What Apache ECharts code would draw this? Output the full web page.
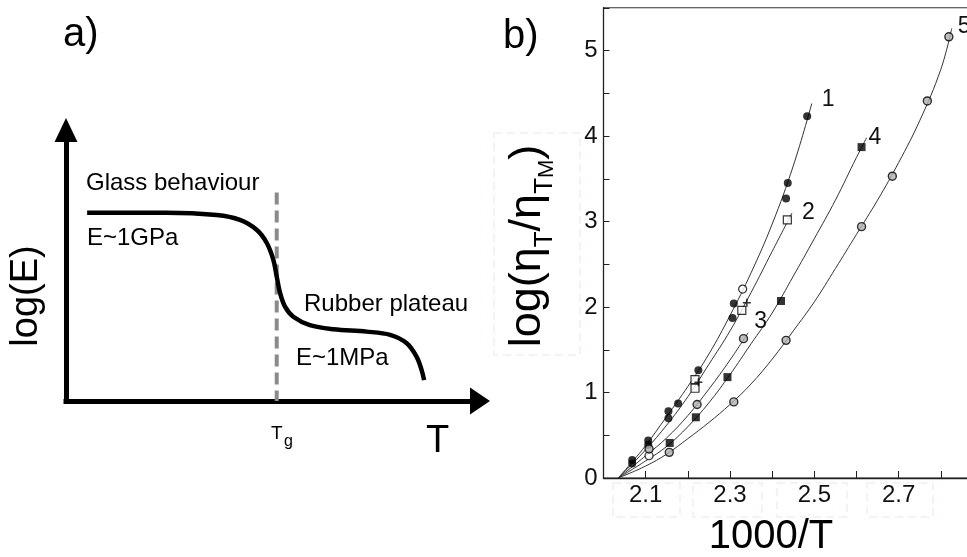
<!DOCTYPE html>
<html>
<head>
<meta charset="utf-8">
<script src="https://cdn.jsdelivr.net/npm/echarts@6/dist/echarts.min.js"></script>
<style>html,body{margin:0;padding:0;background:#fff}#c{width:967px;height:557px}</style>
</head>
<body>
<div id="c"></div>
<script>
// ---------- Panel a: schematic modulus curve (arbitrary units) ----------
const schemT    = [0.51, 2.43, 3.64, 4.20, 4.61, 4.85, 5.01, 5.09, 5.17, 5.29, 5.49, 5.89, 6.46, 7.26, 7.83, 8.23, 8.47, 8.59, 8.65];
const schemLogE = [6.95, 6.95, 6.86, 6.68, 6.31, 5.83, 5.20, 4.59, 3.99, 3.48, 3.11, 2.80, 2.65, 2.56, 2.44, 2.13, 1.63, 1.14, 0.77];
const tgT = 5.09;
const tgTop = 7.69;

// ---------- Panel b: fitted curves ----------
const fit1X = [2.035, 2.07, 2.1, 2.15, 2.2, 2.25, 2.3, 2.35, 2.4, 2.45, 2.494];
const fit1Y = [0, 0.2, 0.38, 0.72, 1.07, 1.45, 1.9, 2.4, 2.97, 3.65, 4.38];
const fit2X = [2.035, 2.1, 2.15, 2.2, 2.25, 2.3, 2.35, 2.4, 2.447];
const fit2Y = [0, 0.33, 0.62, 0.95, 1.33, 1.72, 2.17, 2.65, 3.10];
const fit3X = [2.035, 2.1, 2.15, 2.2, 2.25, 2.3, 2.343];
const fit3Y = [0, 0.26, 0.47, 0.73, 1.04, 1.38, 1.70];
const fit4X = [2.035, 2.1, 2.15, 2.2, 2.25, 2.3, 2.35, 2.4, 2.45, 2.5, 2.55, 2.6, 2.624];
const fit4Y = [0, 0.2, 0.37, 0.6, 0.88, 1.21, 1.57, 1.93, 2.36, 2.8, 3.25, 3.75, 3.98];
const fit5X = [2.035, 2.1, 2.15, 2.2, 2.25, 2.3, 2.35, 2.4, 2.45, 2.5, 2.55, 2.6, 2.65, 2.7, 2.75, 2.8, 2.826];
const fit5Y = [0, 0.14, 0.28, 0.46, 0.65, 0.86, 1.1, 1.39, 1.72, 2.06, 2.45, 2.85, 3.25, 3.69, 4.18, 4.78, 5.26];
const curveNames = ['1', '2', '3', '4', '5'];

// ---------- Panel b: measured points ----------
const filledCircX = [2.483, 2.437, 2.433, 2.309, 2.306, 2.225, 2.177, 2.154, 2.154, 2.106, 2.106, 2.068, 2.068];
const filledCircY = [4.23, 3.45, 3.27, 2.04, 1.87, 1.26, 0.87, 0.78, 0.70, 0.44, 0.39, 0.21, 0.17];
const openSqX = [2.436, 2.328, 2.217, 2.217];
const openSqY = [3.02, 1.96, 1.15, 1.05];
const openCircX = [2.330, 2.108];
const openCircY = [2.21, 0.26];
const plusX = [2.340, 2.225];
const plusY = [2.05, 1.12];
const halfCircX = [2.332, 2.222, 2.108, 2.819, 2.768, 2.685, 2.612, 2.433, 2.309, 2.156];
const halfCircY = [1.63, 0.86, 0.34, 5.16, 4.41, 3.53, 2.94, 1.61, 0.89, 0.30];
const filledSqX = [2.612, 2.421, 2.294, 2.219, 2.157];
const filledSqY = [3.87, 2.07, 1.18, 0.71, 0.41];

const xTickLabels = ['2.1', '2.3', '2.5', '2.7'];
const yTickLabels = ['0', '1', '2', '3', '4', '5'];

const zip = (a, b) => a.map((v, i) => [v, b[i]]);
const FF = '"Liberation Sans", Arial, sans-serif';

const chart = echarts.init(document.getElementById('c'), null, { renderer: 'canvas' });

const fits = [[fit1X, fit1Y], [fit2X, fit2Y], [fit3X, fit3Y], [fit4X, fit4Y], [fit5X, fit5Y]];
const labelOffsets = [[6, -4], [6, 0], [2, -11], [-2, 0], [2, -2]];

const fitSeries = fits.map((f, i) => ({
  name: curveNames[i],
  type: 'line', xAxisIndex: 1, yAxisIndex: 1,
  data: zip(f[0], f[1]), smooth: 0.4, showSymbol: false, silent: true,
  lineStyle: { color: '#333', width: 1 },
  endLabel: { show: true, formatter: '{a}', color: '#111', fontSize: 23, fontFamily: FF, distance: 4, offset: labelOffsets[i] },
  z: 2
}));

const boxStyle = { fill: 'none', stroke: '#f8f0f8', lineWidth: 2, lineDash: [8, 5] };

const option = {
  animation: false,
  backgroundColor: '#fff',
  grid: [
    { left: 66, top: 130, width: 414, height: 271, outerBoundsMode: 'none', containLabel: false },
    { left: 603.5, top: 7.75, width: 379.5, height: 470.25, outerBoundsMode: 'none', containLabel: false,
      show: true, borderColor: '#333', borderWidth: 1 }
  ],
  xAxis: [
    { gridIndex: 0, type: 'value', min: 0, max: 10,
      axisLine: { show: true, symbol: ['none', 'triangle'], symbolSize: [27, 20], lineStyle: { color: '#000', width: 5, cap: 'square' } },
      axisTick: { show: false }, axisLabel: { show: false }, splitLine: { show: false } },
    { gridIndex: 1, type: 'value', min: 2.0, max: 2.9, interval: 0.1,
      axisLine: { show: true, onZero: false, lineStyle: { color: '#222', width: 1.3 } },
      axisTick: { show: true, inside: true, length: 7, lineStyle: { color: '#222', width: 1 } },
      axisLabel: { show: true, margin: 5, fontSize: 24, color: '#111', fontFamily: FF,
        formatter: v => { const s = v.toFixed(1); return xTickLabels.indexOf(s) >= 0 ? s : ''; } },
      splitLine: { show: false } }
  ],
  yAxis: [
    { gridIndex: 0, type: 'value', min: 0, max: 10,
      axisLine: { show: true, symbol: ['none', 'triangle'], symbolSize: [23, 24], lineStyle: { color: '#000', width: 5, cap: 'square' } },
      axisTick: { show: false }, axisLabel: { show: false }, splitLine: { show: false } },
    { gridIndex: 1, type: 'value', min: 0, max: 5.5, interval: 0.5,
      axisLine: { show: true, onZero: false, lineStyle: { color: '#222', width: 1.3 } },
      axisTick: { show: true, inside: true, length: 6, lineStyle: { color: '#222', width: 1 } },
      axisLabel: { show: true, margin: 6, fontSize: 24, color: '#111', fontFamily: FF,
        formatter: v => { const s = String(Math.round(v * 10) / 10); return yTickLabels.indexOf(s) >= 0 ? s : ''; } },
      splitLine: { show: false } }
  ],
  series: [
    { type: 'line', xAxisIndex: 0, yAxisIndex: 0, data: [[tgT, tgTop], [tgT, 0]], showSymbol: false, silent: true,
      lineStyle: { color: '#8a8a8a', width: 4, type: [12, 6] }, z: 2 },
    { type: 'line', xAxisIndex: 0, yAxisIndex: 0, data: zip(schemT, schemLogE), smooth: 0.35, showSymbol: false, silent: true,
      lineStyle: { color: '#000', width: 4.5 }, z: 3 },
    ...fitSeries,
    { type: 'scatter', xAxisIndex: 1, yAxisIndex: 1, data: zip(filledCircX, filledCircY), symbol: 'circle', symbolSize: 8,
      itemStyle: { color: '#000' }, silent: true, z: 4 },
    { type: 'scatter', xAxisIndex: 1, yAxisIndex: 1, data: zip(openSqX, openSqY), symbol: 'rect', symbolSize: 8,
      itemStyle: { color: '#fff', borderColor: '#000', borderWidth: 1.2 }, silent: true, z: 4 },
    { type: 'scatter', xAxisIndex: 1, yAxisIndex: 1, data: zip(openCircX, openCircY), symbol: 'circle', symbolSize: 8,
      itemStyle: { color: '#fff', borderColor: '#000', borderWidth: 1.2 }, silent: true, z: 4 },
    { type: 'scatter', xAxisIndex: 1, yAxisIndex: 1, data: zip(plusX, plusY), symbol: 'path://M0,5L10,5M5,0L5,10', symbolSize: 8,
      itemStyle: { color: 'none', borderColor: '#000', borderWidth: 1.5 }, silent: true, z: 4 },
    { type: 'scatter', xAxisIndex: 1, yAxisIndex: 1, data: zip(halfCircX, halfCircY), symbol: 'circle', symbolSize: 8,
      itemStyle: { color: '#b0b0b0', borderColor: '#000', borderWidth: 1.4 }, silent: true, z: 4 },
    { type: 'scatter', xAxisIndex: 1, yAxisIndex: 1, data: zip(filledSqX, filledSqY), symbol: 'rect', symbolSize: 8,
      itemStyle: { color: '#000' }, silent: true, z: 4 }
  ],
  graphic: [
    // faint scan artefact boxes
    { type: 'rect', shape: { x: 494, y: 133, width: 86, height: 222 }, style: boxStyle, z: 0, silent: true },
    { type: 'rect', shape: { x: 613, y: 483, width: 67, height: 34 }, style: boxStyle, z: 0, silent: true },
    { type: 'rect', shape: { x: 693, y: 483, width: 69, height: 34 }, style: boxStyle, z: 0, silent: true },
    { type: 'rect', shape: { x: 777, y: 483, width: 70, height: 34 }, style: boxStyle, z: 0, silent: true },
    { type: 'rect', shape: { x: 867, y: 483, width: 66, height: 34 }, style: boxStyle, z: 0, silent: true },
    // panel labels
    { type: 'text', x: 63, y: 35, style: { text: 'a)', font: '40px ' + FF, fill: '#000', align: 'left', verticalAlign: 'middle' }, z: 10 },
    { type: 'text', x: 503, y: 37, style: { text: 'b)', font: '40px ' + FF, fill: '#000', align: 'left', verticalAlign: 'middle' }, z: 10 },
    // panel a annotations
    { type: 'text', x: 86, y: 183, style: { text: 'Glass behaviour', font: '24px ' + FF, fill: '#000', align: 'left', verticalAlign: 'middle' }, z: 10 },
    { type: 'text', x: 87, y: 238.5, style: { text: 'E~1GPa', font: '24px ' + FF, fill: '#000', align: 'left', verticalAlign: 'middle' }, z: 10 },
    { type: 'text', x: 304, y: 304, style: { text: 'Rubber plateau', font: '24px ' + FF, fill: '#000', align: 'left', verticalAlign: 'middle' }, z: 10 },
    { type: 'text', x: 296, y: 358.5, style: { text: 'E~1MPa', font: '24px ' + FF, fill: '#000', align: 'left', verticalAlign: 'middle' }, z: 10 },
    { type: 'text', x: 271, y: 434, style: { text: 'T', font: '19px ' + FF, fill: '#000', align: 'left', verticalAlign: 'middle' }, z: 10 },
    { type: 'text', x: 284, y: 442, style: { text: 'g', font: '16px ' + FF, fill: '#000', align: 'left', verticalAlign: 'middle' }, z: 10 },
    { type: 'text', x: 426, y: 441.5, style: { text: 'T', font: '38px ' + FF, fill: '#000', align: 'left', verticalAlign: 'middle' }, z: 10 },
    { type: 'text', x: 27, y: 296, rotation: Math.PI / 2, style: { text: 'log(E)', font: '38px ' + FF, fill: '#000', align: 'center', verticalAlign: 'middle' }, z: 10 },
    // panel b axis titles
    { type: 'text', x: 771, y: 537, style: { text: '1000/T', font: '40px ' + FF, fill: '#000', align: 'center', verticalAlign: 'middle' }, z: 10 },
    { type: 'text', x: 528, y: 246, rotation: Math.PI / 2,
      style: { text: '{m|log(η}{s|T}{m|/η}{s|T}{ss|M}{m|)}', align: 'center', verticalAlign: 'middle', fill: '#000',
        rich: {
          m: { fontSize: 45, fontFamily: FF, lineHeight: 60 },
          s: { fontSize: 26, fontFamily: FF, lineHeight: 32, verticalAlign: 'bottom' },
          ss: { fontSize: 22, fontFamily: FF, lineHeight: 10, verticalAlign: 'bottom' }
        } }, z: 10 }
  ]
};
chart.setOption(option);
</script>
</body>
</html>
